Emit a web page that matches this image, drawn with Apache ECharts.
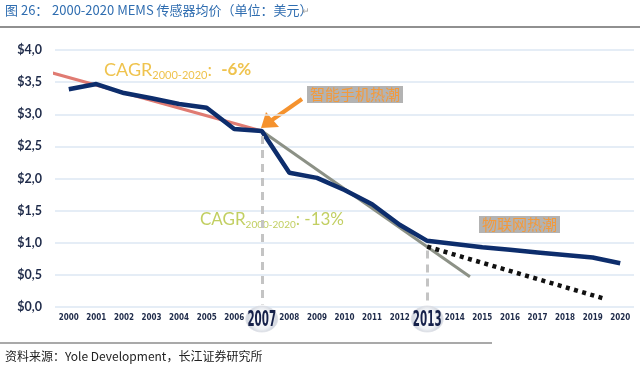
<!DOCTYPE html>
<html><head><meta charset="utf-8">
<script src="https://cdn.jsdelivr.net/npm/echarts@6/dist/echarts.min.js"></script>
<style>html,body{margin:0;padding:0;background:#fff}#c{width:640px;height:368px}</style>
</head><body><div id="c"></div>
<script>
var years = [2000,2001,2002,2003,2004,2005,2006,2007,2008,2009,2010,2011,2012,2013,2014,2015,2016,2017,2018,2019,2020];
var asp = [3.39,3.47,3.33,3.25,3.16,3.10,2.77,2.74,2.09,2.01,1.82,1.60,1.28,1.03,0.98,0.93,0.89,0.85,0.81,0.77,0.68];
var trend6 = [[1999,3.69],[2007,2.74]];
var trend13 = [[2007,2.74],[2014.55,0.47]];
var trendDot = [[2013,0.94],[2019.5,0.12]];
var markYears = [2007,2013];

var chart = echarts.init(document.getElementById('c'), null, {renderer:'canvas'});
var navy = '#1f2b4a';
var graphics = [
    {type:'text',left:5,top:4,style:{text:'图 26：',fill:'#2f6db0',fontSize:13,fontFamily:'Noto Sans CJK SC'}},
    {type:'text',left:52,top:4,style:{text:'2000-2020 MEMS 传感器均价（单位：美元）',fill:'#2f6db0',fontSize:13,fontFamily:'Noto Sans CJK SC'}},
    {type:'text',left:302,top:6,style:{text:'↵',fill:'#999',fontSize:9,fontFamily:'Noto Sans CJK SC'}},
    {type:'line',shape:{x1:0,y1:27,x2:640,y2:27},style:{stroke:'#222',lineWidth:1.2}},
    {type:'line',shape:{x1:0,y1:343,x2:492,y2:343},style:{stroke:'#555',lineWidth:1.2}},
    {type:'text',left:5,top:350,style:{text:'资料来源：Yole Development，长江证券研究所',fill:'#222',fontSize:12,fontFamily:'Noto Sans CJK SC'}},
    {type:'text',left:104,top:61,style:{rich:{a:{fontSize:18,fontFamily:'Lato',fill:'#efc34e'},s:{fontSize:11,fontFamily:'Lato',fill:'#efc34e',padding:[10,0,0,0]},c:{fontSize:17,fontFamily:'Lato',fontWeight:'bold',fill:'#efc34e'}},text:'{a|CAGR}{s|2000-2020}{a|:  }{c|-6%}'}},
    {type:'text',left:200,top:211,style:{rich:{a:{fontSize:17,fontFamily:'Lato',fill:'#c2cf62'},s:{fontSize:10,fontFamily:'Lato',fill:'#c2cf62',padding:[10,0,0,0]}},text:'{a|CAGR}{s|2000-2020}{a|: -13%}'}},
    {type:'text',left:307,top:86,style:{text:'智能手机热潮',fill:'#f39a3c',fontSize:15,fontFamily:'Noto Sans CJK SC',backgroundColor:'#b3b3b3',padding:[1,3,1,3]}},
    {type:'text',left:479,top:216,style:{text:'物联网热潮',fill:'#f39a3c',fontSize:15,fontFamily:'Noto Sans CJK SC',backgroundColor:'#b3b3b3',padding:[1,3,1,3]}},
    {type:'line',shape:{x1:302,y1:99,x2:272,y2:120},style:{stroke:'#f5922e',lineWidth:4}},
    {type:'polygon',shape:{points:[[261,128],[266,112],[279,127]]},style:{fill:'#f5922e'}}
];
chart.setOption({
  animation:false,
  grid:{left:55,right:6,top:50,bottom:61},
  xAxis:{type:'value',min:1999.5,max:2020.5,
    axisLine:{show:false},axisTick:{show:false},splitLine:{show:false},
    axisLabel:{customValues:years,margin:7,color:navy,fontSize:8,fontWeight:'bold',fontFamily:'DejaVu Sans Condensed',
      formatter:function(v){return markYears.indexOf(v)>=0?'':String(v);}}
  },
  yAxis:{type:'value',min:0,max:4,interval:0.5,
    axisLine:{show:false},axisTick:{show:false},
    splitLine:{lineStyle:{color:'#dde7f3',width:1.5}},
    axisLabel:{margin:13,color:navy,fontSize:12.5,fontWeight:'bold',fontFamily:'Lato',
      formatter:function(v){return '$'+v.toFixed(1).replace('.',',');}}
  },
  series:[
    {type:'line',data:trend6,symbol:'none',clip:false,lineStyle:{color:'#e07b72',width:3},z:3},
    {type:'line',data:trend13,symbol:'none',lineStyle:{color:'#8c9186',width:3},z:3},
    {type:'line',data:trendDot,symbol:'none',lineStyle:{color:'#111',width:4.5,type:[4,4.5],cap:'butt'},z:3},
    {type:'line',data:years.map(function(y,i){return [y,asp[i]];}),symbol:'none',
      lineStyle:{color:'#0d2d6c',width:4.5},z:4,
      markLine:{silent:true,symbol:'none',label:{show:false},
        lineStyle:{color:'#c4c4c4',width:3,type:[8,6]},
        data:[[{coord:[2007,2.66]},{coord:[2007,0.04]}],[{coord:[2013,0.88]},{coord:[2013,0.04]}]]}}
  ],
  graphic:graphics
});
markYears.forEach(function(yr){
  var p = chart.convertToPixel({xAxisIndex:0,yAxisIndex:0},[yr,0]);
  var cx = p[0], cy = p[1]+12;
  graphics.push({type:'ellipse',shape:{cx:cx,cy:cy,rx:16,ry:13},
    style:{fill:new echarts.graphic.RadialGradient(0.5,0.5,0.5,[{offset:0,color:'#ffffff'},{offset:0.75,color:'#f0f2f5'},{offset:1,color:'#d6dae2'}]),stroke:'#dde0e6',lineWidth:0.8},z:10});
  graphics.push({type:'text',x:cx,y:cy+1,scaleX:0.47,z:11,
    style:{text:String(yr),fill:'#16214a',fontSize:22,fontWeight:'bold',fontFamily:'DejaVu Sans',align:'center',verticalAlign:'middle'}});
});
chart.setOption({graphic:graphics});
</script></body></html>
